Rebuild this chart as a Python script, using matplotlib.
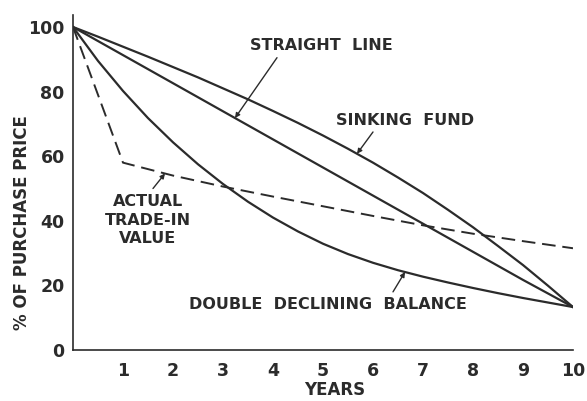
import numpy as np
import matplotlib
matplotlib.use("Agg")
import matplotlib.pyplot as plt

# Data (% of purchase price vs. years)
years = [0, 1, 2, 3, 4, 5, 6, 7, 8, 9, 10]
straight_line = [100, 91.3, 82.6, 73.9, 65.2, 56.5, 47.8, 39.1, 30.4, 21.7, 13.3]
half_years = [0, 0.5, 1, 1.5, 2, 2.5, 3, 3.5, 4, 4.5, 5, 5.5, 6, 6.5, 7, 7.5, 8, 8.5, 9, 9.5, 10]
sinking_fund = [100, 97.0, 93.9, 90.8, 87.6, 84.4, 81.0, 77.6, 74.0, 70.3, 66.4,
                62.3, 58.0, 53.4, 48.6, 43.4, 38.0, 32.2, 26.3, 19.9, 13.3]
double_declining = [100, 89.5, 80.2, 71.8, 64.3, 57.5, 51.4, 45.9, 41.0, 36.7, 32.9,
                    29.7, 27.0, 24.7, 22.7, 20.9, 19.2, 17.6, 16.1, 14.7, 13.3]
trade_years = [0, 1, 2, 3, 4, 5, 6, 7, 8, 9, 10]
trade_in = [100, 58, 54, 50.6, 47.5, 44.5, 41.5, 38.6, 36, 33.7, 31.5]

xticks = [1, 2, 3, 4, 5, 6, 7, 8, 9, 10]
xticklabels = ["1", "2", "3", "4", "5", "6", "7", "8", "9", "10"]
yticks = [0, 20, 40, 60, 80, 100]
yticklabels = ["0", "20", "40", "60", "80", "100"]

ink = "#2b2b2b"
plt.rcParams['font.family'] = ['DejaVu Sans']

fig = plt.figure(figsize=(5.87, 4.01), dpi=100)
fig.patch.set_facecolor("white")
ax = fig.add_axes([73/587, 1-350/401, 500/587, 335/401])
ax.set_xlim(0, 10)
ax.set_ylim(0, 335/3.23)

lw = 1.6
ax.plot(years, straight_line, color=ink, lw=lw)
ax.plot(half_years, sinking_fund, color=ink, lw=lw)
ax.plot(half_years, double_declining, color=ink, lw=lw)
ax.plot(trade_years, trade_in, color=ink, lw=1.4, dashes=(7, 3.5))

for s in ["top", "right"]:
    ax.spines[s].set_visible(False)
for s in ["left", "bottom"]:
    ax.spines[s].set_color(ink)
    ax.spines[s].set_linewidth(1.2)

ax.set_xticks(xticks)
ax.set_xticklabels(xticklabels)
ax.set_yticks(yticks)
ax.set_yticklabels(yticklabels)
ax.tick_params(length=0, colors=ink, labelsize=12.5, pad=6)
ax.tick_params(axis="x", pad=9)
for t in ax.get_xticklabels() + ax.get_yticklabels():
    t.set_fontweight("bold")

tf = dict(color=ink, fontsize=11.5, fontweight="bold", ha="center", va="center")
ap = dict(arrowstyle="-|>", color=ink, lw=1.0, mutation_scale=7, shrinkA=0, shrinkB=0)

def on(xs, ys, x):
    return (x, float(np.interp(x, xs, ys)))

ax.text(4.96, 94.4, "STRAIGHT  LINE", **tf)
ax.annotate("", xy=on(years, straight_line, 3.24), xytext=(4.08, 90.5), arrowprops=ap)

ax.text(6.64, 71.2, "SINKING  FUND", **tf)
ax.annotate("", xy=on(half_years, sinking_fund, 5.68), xytext=(6.0, 67.5), arrowprops=ap)

ax.text(1.5, 40.2, "ACTUAL\nTRADE-IN\nVALUE", linespacing=1.3, **tf)
ax.annotate("", xy=on(trade_years, trade_in, 1.84), xytext=(1.6, 50.0), arrowprops=ap)

ax.text(5.1, 14.2, "DOUBLE  DECLINING  BALANCE", **tf)
ax.annotate("", xy=on(half_years, double_declining, 6.64), xytext=(6.4, 18.0), arrowprops=ap)

fig.text(335/587, 1-390/401, "YEARS", color=ink, fontsize=12, fontweight="bold", ha="center", va="center")
fig.text(22/587, 1-223/401, "% OF PURCHASE PRICE", color=ink, fontsize=12, fontweight="bold",
         ha="center", va="center", rotation=90)

fig.savefig("out.png", dpi=100, facecolor="white")
